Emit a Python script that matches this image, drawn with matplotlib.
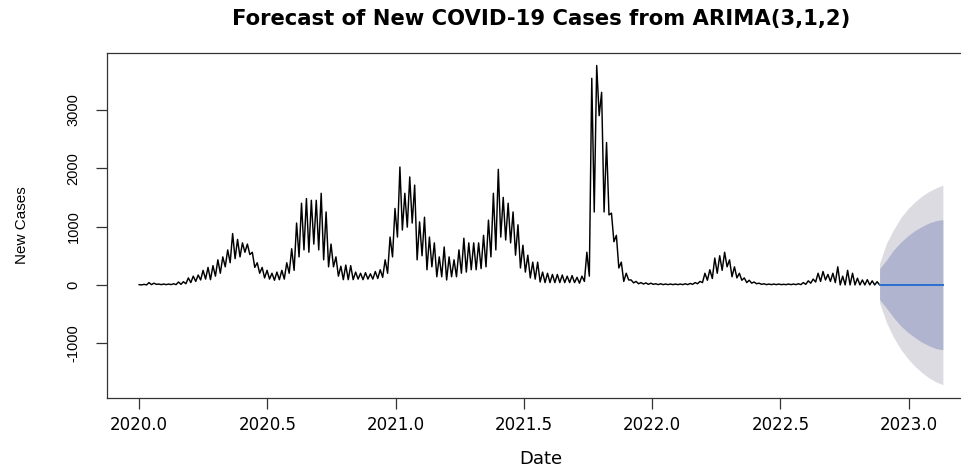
import numpy as np
import matplotlib
matplotlib.use('Agg')
import matplotlib.pyplot as plt

# weekly peak / trough of reported new cases (first week starts 2020-01-01)
weekly_high = [
    5, 10, 40, 30, 15,
    15, 15, 20, 50, 55,
    120, 150, 170, 250, 300,
    330, 430, 480, 600, 880,
    780, 720, 700, 560, 380,
    300, 250, 200, 220, 250,
    380, 620, 1060, 1400, 1480,
    1450, 1450, 1570, 1250, 700,
    480, 320, 340, 330, 220,
    200, 210, 190, 230, 260,
    430, 820, 1310, 2020, 1570,
    1850, 1710, 1080, 1160, 820,
    720, 480, 650, 480, 430,
    600, 800, 720, 720, 720,
    850, 1110, 1570, 1980, 1500,
    1400, 1250, 1030, 680, 510,
    390, 390, 220, 200, 180,
    180, 170, 150, 160, 130,
    150, 560, 3540, 3760, 3300,
    2440, 1230, 850, 390, 200,
    85, 60, 40, 35, 30,
    20, 20, 15, 15, 15,
    15, 20, 25, 40, 60,
    200, 260, 460, 500, 560,
    430, 310, 200, 120, 80,
    50, 30, 20, 15, 15,
    15, 10, 15, 15, 20,
    40, 70, 100, 200, 230,
    180, 200, 310, 150, 250,
    200, 115, 85, 90, 70,
    55,
]
weekly_low = [
    0, 0, 5, 10, 5,
    5, 5, 5, 10, 20,
    40, 60, 85, 100, 90,
    150, 200, 310, 380, 450,
    480, 560, 520, 300, 200,
    120, 100, 80, 90, 100,
    200, 250, 480, 600, 560,
    700, 600, 430, 310, 310,
    150, 90, 90, 90, 100,
    90, 100, 100, 110, 130,
    200, 480, 820, 940, 990,
    1060, 430, 500, 260, 310,
    140, 140, 85, 140, 140,
    200, 220, 260, 260, 280,
    310, 480, 600, 820, 770,
    720, 510, 290, 220, 120,
    100, 50, 40, 40, 40,
    40, 40, 40, 40, 30,
    60, 150, 1250, 2900, 1250,
    1200, 740, 290, 60, 85,
    35, 20, 15, 10, 10,
    5, 5, 5, 5, 5,
    5, 5, 10, 20, 40,
    80, 110, 200, 250, 310,
    140, 120, 80, 40, 30,
    20, 10, 5, 5, 5,
    5, 5, 5, 5, 5,
    10, 30, 50, 60, 85,
    60, 40, 0, 0, 0,
    0, 0, 0, 0, 0,
    0,
]

# ARIMA(3,1,2) forecast, days ahead of the last observation
fc_days = [0, 10, 20, 30, 40, 50, 60, 70, 80, 90]
fc_mean = [5, 5, 5, 5, 5, 5, 5, 5, 5, 5]
fc_lo80 = [-250, -400, -560, -700, -810, -900, -980, -1040, -1090, -1110]
fc_hi80 = [280, 430, 600, 730, 840, 930, 1000, 1060, 1100, 1120]
fc_lo95 = [-310, -650, -900, -1100, -1260, -1390, -1500, -1590, -1660, -1710]
fc_hi95 = [370, 720, 950, 1150, 1300, 1420, 1520, 1600, 1660, 1710]

plt.rcParams['font.family'] = ['Liberation Sans', 'DejaVu Sans']

# two observations per week: the weekday peak, then the weekend dip
n = len(weekly_high)
t = np.empty(2 * n)
y = np.empty(2 * n)
t[0::2] = 2020 + np.arange(n) * 7 / 365
t[1::2] = 2020 + (np.arange(n) * 7 + 3.5) / 365
y[0::2] = weekly_high
y[1::2] = weekly_low

t_fc = t[-1] + np.array(fc_days) / 365

fig = plt.figure(figsize=(9.62, 4.70), dpi=100)
ax = fig.add_axes([107 / 962, 72.5 / 470, (975 - 107) / 962, (417.3 - 72.5) / 470])

ax.plot(t, y, color='black', lw=1.05)
ax.fill_between(t_fc, fc_lo95, fc_hi95, color='#dbdbe1', lw=0)
ax.fill_between(t_fc, fc_lo80, fc_hi80, color='#b0b4cf', lw=0)
ax.plot(np.r_[t[-1], t_fc], np.r_[y[-1], fc_mean], color='#2a6fd0', lw=1.4)

span = t_fc[-1] - 2020
ax.set_xlim(2020 - 0.04 * span, t_fc[-1] + 0.04 * span)
ax.set_ylim(-1929, 3979)

wide = ['DejaVu Sans']
xt = np.arange(2020, 2023.01, 0.5)
ax.set_xticks(xt)
ax.set_xticklabels([f'{v:.1f}' for v in xt], fontsize=12, family=wide)
ax.set_yticks([-1000, 0, 1000, 2000, 3000])
ax.set_yticklabels(['-1000', '0', '1000', '2000', '3000'], rotation=90, va='center',
                   fontsize=10.5, family=['Liberation Sans'])
ax.tick_params(axis='both', direction='out', length=8, width=0.9, color='#333333')
ax.tick_params(axis='x', pad=5)
ax.tick_params(axis='y', pad=11)
for s in ax.spines.values():
    s.set_color('#333333')
    s.set_linewidth(0.9)
ax.spines['right'].set_visible(False)

ax.set_title('Forecast of New COVID-19 Cases from ARIMA(3,1,2)', fontsize=15.2,
             fontweight='bold', family=wide, pad=20)
ax.set_xlabel('Date', fontsize=13, family=wide, labelpad=12)
ax.set_ylabel('New Cases', fontsize=11, family=['Liberation Sans'], labelpad=27)

fig.savefig('out.png', dpi=100)
